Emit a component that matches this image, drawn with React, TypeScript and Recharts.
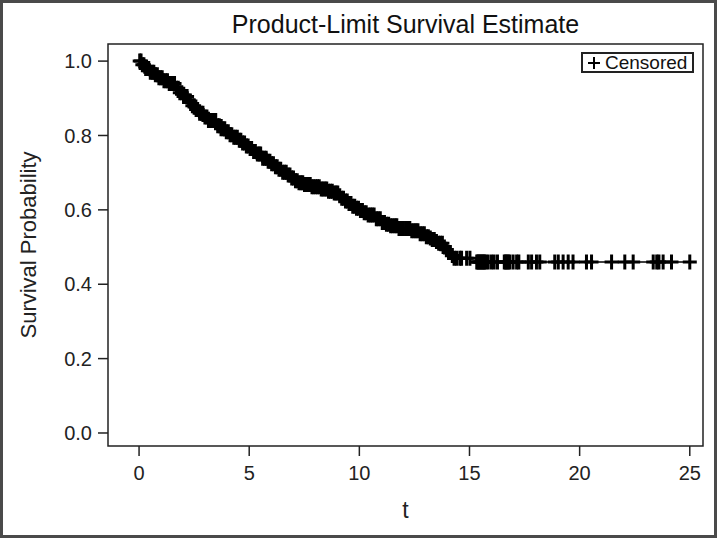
import { ComposedChart, Line, Scatter, XAxis, YAxis, ReferenceArea } from "recharts"

// Kaplan-Meier step knots (time, survival)
const stepTimes = [
  0, 0.1, 0.27, 0.5, 0.7, 0.88, 1.1, 1.3, 1.63, 1.85, 2.0, 2.2, 2.39, 2.55, 2.75, 2.95, 3.15, 3.5,
  3.7, 3.9, 4.1, 4.3, 4.5, 4.66, 4.85, 5.0, 5.15, 5.3, 5.57, 5.8, 6.0, 6.15, 6.32, 6.5, 6.7, 6.9,
  7.08, 7.25, 7.45, 7.84, 8.2, 8.59, 8.8, 9.04, 9.2, 9.35, 9.5, 9.65, 9.8, 10.0, 10.2, 10.4,
  10.7, 11.0, 11.2, 11.4, 11.77, 12.37, 12.7, 12.98, 13.15, 13.3, 13.45, 13.58, 13.8, 13.92, 14.03,
  14.15, 14.26, 15.3, 25,
]
const stepSurvival = [
  1.0, 0.99, 0.98, 0.97, 0.963, 0.955, 0.947, 0.94, 0.927, 0.915, 0.905, 0.893, 0.88, 0.87, 0.86,
  0.85, 0.84, 0.826, 0.818, 0.81, 0.802, 0.795, 0.787, 0.78, 0.772, 0.765, 0.757, 0.75, 0.739,
  0.731, 0.724, 0.716, 0.709, 0.701, 0.694, 0.686, 0.678, 0.673, 0.668, 0.662, 0.656, 0.65, 0.645,
  0.638, 0.631, 0.624, 0.617, 0.61, 0.604, 0.598, 0.592, 0.586, 0.576, 0.566, 0.561, 0.557, 0.55,
  0.544, 0.536, 0.528, 0.524, 0.52, 0.515, 0.51, 0.5, 0.493, 0.485, 0.477, 0.47, 0.46, 0.46,
]

// censoring times (+ marks)
const censoredTimes = [
  0.03, 0.09, 0.15, 0.22, 0.3, 0.36, 0.44, 0.51, 0.6, 0.67, 0.74, 0.83, 0.9, 0.98, 1.05, 1.13,
  1.22, 1.29, 1.37, 1.46, 1.52, 1.61, 1.7, 1.78, 1.85, 1.94, 2.02, 2.09, 2.18, 2.27, 2.33, 2.42,
  2.5, 2.59, 2.66, 2.75, 2.83, 2.9, 2.99, 3.08, 3.15, 3.24, 3.31, 3.4, 3.48, 3.57, 3.64, 3.72,
  3.81, 3.89, 3.96, 4.05, 4.13, 4.21, 4.3, 4.37, 4.46, 4.55, 4.62, 4.7, 4.79, 4.87, 4.95, 5.04,
  5.11, 5.2, 5.28, 5.37, 5.45, 5.52, 5.61, 5.7, 5.77, 5.86, 5.94, 6.02, 6.1, 6.19, 6.27, 6.35,
  6.43, 6.52, 6.6, 6.68, 6.77, 6.85, 6.93, 7.01, 7.1, 7.18, 7.26, 7.35, 7.43, 7.51, 7.6, 7.68,
  7.77, 7.85, 7.93, 8.02, 8.1, 8.18, 8.27, 8.35, 8.44, 8.52, 8.6, 8.69, 8.77, 8.86, 8.94, 9.02,
  9.11, 9.2, 9.28, 9.37, 9.45, 9.53, 9.62, 9.7, 9.79, 9.87, 9.96, 10.05, 10.14, 10.22, 10.31, 10.4,
  10.5, 10.58, 10.67, 10.77, 10.85, 10.95, 11.04, 11.14, 11.23, 11.33, 11.42, 11.52, 11.62, 11.7,
  11.8, 11.9, 12.0, 12.1, 12.2, 12.29, 12.38, 12.48, 12.57, 12.66, 12.76, 12.85, 12.95, 13.04,
  13.13, 13.22, 13.31, 13.4, 13.5, 13.6, 13.68, 13.77, 13.86, 13.95, 14.05, 14.13, 14.22, 14.3,
  14.41, 14.56, 14.64, 14.87, 15.02,
  15.33, 15.38, 15.43, 15.48, 15.53, 15.58, 15.63, 15.68, 15.74, 15.85, 16.0, 16.12, 16.27, 16.58,
  16.64, 16.7, 16.76, 16.83, 16.98, 17.14, 17.24, 17.67, 17.82, 18.04, 18.19, 18.87, 19.03, 19.25,
  19.48, 19.7, 20.31, 20.54, 21.45, 22.05, 22.43, 23.34, 23.5, 23.6, 23.79, 24.17, 25.0,
]

const xTicks = [0, 5, 10, 15, 20, 25]
const yTicks = [0, 0.2, 0.4, 0.6, 0.8, 1.0]

const xDomain = [-1.41, 25.6]
const yDomain = [-0.035, 1.046]

const FONT = "'Liberation Sans', Arial, sans-serif"

const survData = stepTimes.map((t, i) => ({ t, s: stepSurvival[i] }))

// survival value at time t (KM step lookup)
function survAt(t: number) {
  let s = stepSurvival[0]
  for (let i = 0; i < stepTimes.length; i++) {
    if (stepTimes[i] <= t) s = stepSurvival[i]
  }
  return s
}

const censData = censoredTimes.map((t) => ({ t, s: survAt(t) }))

const PlusMark = (props: any) => {
  const { cx, cy } = props
  if (cx == null || cy == null) return null
  return (
    <path
      d={`M${cx - 7},${cy}h14M${cx},${cy - 7.5}v15`}
      stroke="#000"
      strokeWidth={3}
      fill="none"
    />
  )
}

export default function App() {
  return (
    <div
      style={{
        position: "fixed",
        left: 0,
        top: 0,
        width: 717,
        height: 538,
        background: "#fff",
      }}
    >
      <div
        style={{
          position: "absolute",
          top: 10,
          left: 108,
          width: 595,
          textAlign: "center",
          fontFamily: FONT,
          fontSize: 25,
          color: "#111",
        }}
      >
        Product-Limit Survival Estimate
      </div>
      <ComposedChart width={717} height={538} margin={{ top: 44, right: 14, left: 0, bottom: 0 }}>
        <XAxis
          dataKey="t"
          type="number"
          domain={xDomain}
          ticks={xTicks}
          allowDataOverflow
          axisLine={false}
          tickSize={10}
          tickMargin={10}
          tickLine={{ stroke: "#222", strokeWidth: 1.5 }}
          tick={{ fill: "#222", fontSize: 20, fontFamily: FONT }}
          height={92}
          label={{ value: "t", position: "insideBottom", offset: 20, fill: "#222", fontSize: 23, fontFamily: FONT }}
        />
        <YAxis
          type="number"
          domain={yDomain}
          ticks={yTicks}
          allowDataOverflow
          axisLine={false}
          tickSize={10}
          tickMargin={6}
          tickLine={{ stroke: "#222", strokeWidth: 1.5 }}
          tick={{ fill: "#222", fontSize: 20, fontFamily: FONT }}
          tickFormatter={(v: number) => v.toFixed(1)}
          width={108}
          label={{
            value: "Survival Probability",
            angle: -90,
            position: "center",
            dx: -26,
            fill: "#222",
            fontSize: 22,
            fontFamily: FONT,
          }}
        />
        <ReferenceArea
          x1={xDomain[0]}
          x2={xDomain[1]}
          y1={yDomain[0]}
          y2={yDomain[1]}
          fill="none"
          stroke="#222"
          strokeWidth={1.5}
        />
        <Line
          data={survData}
          dataKey="s"
          type="stepAfter"
          stroke="#000"
          strokeWidth={1.5}
          dot={false}
          isAnimationActive={false}
        />
        <Scatter
          data={censData}
          dataKey="s"
          name="Censored"
          shape={PlusMark}
          isAnimationActive={false}
        />
      </ComposedChart>
      {/* legend box */}
      <div
        style={{
          position: "absolute",
          left: 581,
          top: 52,
          height: 21,
          boxSizing: "border-box",
          border: "2px solid #222",
          padding: "0px 5px",
          fontFamily: FONT,
          fontSize: 19,
          lineHeight: "17px",
          background: "#fff",
          display: "flex",
          alignItems: "center",
          gap: 5,
          whiteSpace: "nowrap",
          color: "#111",
        }}
      >
        <svg width={12} height={12}>
          <path d="M0,6h12M6,0v12" stroke="#000" strokeWidth={2} />
        </svg>
        <span>Censored</span>
      </div>
      <div
        style={{
          position: "absolute",
          inset: 0,
          border: "3px solid #4a4a4a",
          pointerEvents: "none",
        }}
      />
    </div>
  )
}
